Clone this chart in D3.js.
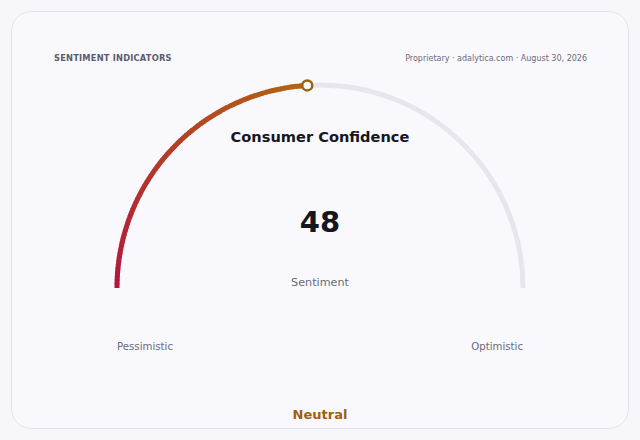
<!DOCTYPE html>
<html>
<head>
<meta charset="utf-8">
<script src="https://cdn.jsdelivr.net/npm/d3@7"></script>
<style>
  html, body { margin: 0; padding: 0; background: #f7f7fb; }
  svg { display: block; font-family: "DejaVu Sans", sans-serif; }
</style>
</head>
<body>
<script>
// gauge data
const gaugeValue = [48];
const gaugeDomain = [0, 100];
const endLabels = ["Pessimistic", "Optimistic"];
const gaugeColors = ["#b3173f", "#b3650f"];
const headerText = ["SENTIMENT INDICATORS", "Proprietary · adalytica.com · August 30, 2026"];
const centerText = ["Consumer Confidence", "Sentiment", "Neutral"];

const width = 640, height = 440;
const cx = 320, cy = 288, radius = 203;

const svg = d3.select("body").append("svg")
    .attr("width", width)
    .attr("height", height);

// card
svg.append("rect")
    .attr("x", 11.5).attr("y", 11.5)
    .attr("width", 617).attr("height", 417)
    .attr("rx", 20)
    .style("fill", "#f9f9fd")
    .style("stroke", "#e2e2ea");

svg.append("text")
    .attr("x", 54).attr("y", 61)
    .style("font-size", "8.3px").style("font-weight", "bold")
    .style("letter-spacing", "0.2px")
    .style("fill", "#5c5c70")
    .text(headerText[0]);

svg.append("text")
    .attr("x", 587).attr("y", 61)
    .style("text-anchor", "end")
    .style("font-size", "8px")
    .style("fill", "#6a6a78")
    .text(headerText[1]);

// angle scale: left end (-90deg) to right end (+90deg)
const angle = d3.scaleLinear().domain(gaugeDomain).range([-Math.PI / 2, Math.PI / 2]);
const arc = d3.arc().innerRadius(radius).outerRadius(radius);

const g = svg.append("g").attr("transform", "translate(" + cx + "," + cy + ")");

// track
g.append("path")
    .attr("d", arc({ startAngle: angle(gaugeDomain[0]), endAngle: angle(gaugeDomain[1]) }))
    .style("fill", "none")
    .style("stroke", "#e6e6ec")
    .style("stroke-width", 5)
    .style("stroke-linecap", "round");

// value arc as small segments with colour interpolation
const color = d3.scaleLinear().domain([gaugeDomain[0], gaugeValue[0]]).range(gaugeColors)
    .interpolate(d3.interpolateRgb);
const steps = 80;
const segs = d3.range(steps).map(i => {
    const a = gaugeDomain[0] + (gaugeValue[0] - gaugeDomain[0]) * i / steps;
    const b = gaugeDomain[0] + (gaugeValue[0] - gaugeDomain[0]) * (i + 1) / steps;
    return [a, b];
});
g.selectAll(".seg")
    .data(segs)
    .enter().append("path")
    .attr("class", "seg")
    .attr("d", d => arc({ startAngle: angle(d[0]), endAngle: angle(d[1]) + 0.004 }))
    .style("fill", "none")
    .style("stroke", d => color((d[0] + d[1]) / 2))
    .style("stroke-width", 5)
    .style("stroke-linecap", (d, i) => i === 0 ? "round" : "butt");

// marker
const mA = angle(gaugeValue[0]);
g.append("circle")
    .attr("cx", radius * Math.sin(mA))
    .attr("cy", -radius * Math.cos(mA))
    .attr("r", 5)
    .style("fill", "#ffffff")
    .style("stroke", "#9a6414")
    .style("stroke-width", 2.5);

// texts
svg.append("text")
    .attr("x", cx).attr("y", 142)
    .style("text-anchor", "middle")
    .style("font-size", "14.6px").style("font-weight", "bold")
    .style("fill", "#16161e")
    .text(centerText[0]);

svg.append("text")
    .attr("x", cx).attr("y", 232)
    .style("text-anchor", "middle")
    .style("font-size", "29px").style("font-weight", "bold")
    .style("fill", "#16161e")
    .text(gaugeValue[0]);

svg.append("text")
    .attr("x", cx).attr("y", 286)
    .style("text-anchor", "middle")
    .style("font-size", "11.2px")
    .style("fill", "#6a6a78")
    .text(centerText[1]);

svg.append("text")
    .attr("x", cx - radius).attr("y", 350)
    .style("font-size", "10.2px")
    .style("fill", "#6a6a78")
    .text(endLabels[0]);

svg.append("text")
    .attr("x", cx + radius).attr("y", 350)
    .style("text-anchor", "end")
    .style("font-size", "10.2px")
    .style("fill", "#6a6a78")
    .text(endLabels[1]);

svg.append("text")
    .attr("x", cx).attr("y", 419)
    .style("text-anchor", "middle")
    .style("font-size", "13px").style("font-weight", "bold")
    .style("fill", "#a0600f")
    .text(centerText[2]);
</script>
</body>
</html>
